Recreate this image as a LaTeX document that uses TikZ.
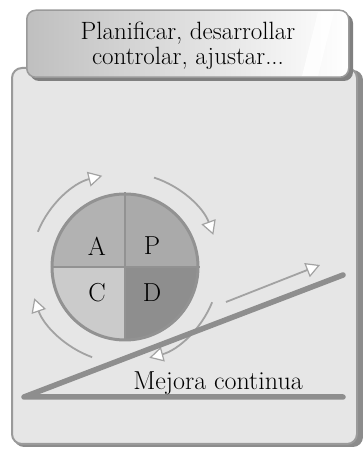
\documentclass[tikz,border=0pt]{standalone}
\usetikzlibrary{arrows.meta}
\definecolor{boxfill}{HTML}{E6E6E6}
\definecolor{edge}{HTML}{9A9A9A}
\definecolor{ring}{HTML}{929292}
\definecolor{qA}{HTML}{B2B2B2}
\definecolor{qP}{HTML}{AAAAAA}
\definecolor{qC}{HTML}{CBCBCB}
\definecolor{qD}{HTML}{8E8E8E}
\definecolor{ramp}{HTML}{8E8E8E}
\definecolor{cyc}{HTML}{A2A2A2}
\begin{document}
\begin{tikzpicture}[x=1pt,y=1pt,
  cycarrow/.style={draw=cyc, line width=1.8pt, -{Triangle[fill=white, length=14pt, width=15pt, line width=1.2pt]}},
  letter/.style={font=\fontsize{26}{26}\selectfont, text=black},
  bigtext/.style={font=\fontsize{25}{25}\selectfont, text=black, align=center}]
\useasboundingbox (0,0) rectangle (363,450);
% main box with shadow
\fill[black!45, rounded corners=10pt] (14,3) rectangle (363,380);
\node[draw=edge, fill=boxfill, line width=2pt, rounded corners=10pt,
  minimum width=345pt, minimum height=376pt, inner sep=0pt, anchor=south west] (box) at (11,5) {};
% tab with shadow
\fill[black!50, rounded corners=9pt] (30,369) rectangle (353,436);
\node[draw=edge, left color=black!25, right color=white, line width=1.5pt, rounded corners=9pt,
  minimum width=322pt, minimum height=67pt, inner sep=0pt, anchor=south west] (tab) at (26,372) {};
\fill[white, opacity=0.8] (318,438) -- (334,438) -- (318,374) -- (302,374) -- cycle;
\node[bigtext] (tabtext) at (188,404) {Planificar, desarrollar\\controlar, ajustar...};
% PDCA circle
\coordinate (c) at (125,183);
\fill[qA] (c) -- ++(0,73) arc (90:180:73) -- cycle;
\fill[qC] (c) -- ++(-73,0) arc (180:270:73) -- cycle;
\fill[qD] (c) -- ++(0,-73) arc (270:360:73) -- cycle;
\fill[qP] (c) -- ++(73,0) arc (0:90:73) -- cycle;
\node[draw=ring, line width=3pt, circle, minimum size=146pt, inner sep=0pt] (pdca) at (c) {};
\draw[ring, line width=1.2pt] (pdca.north) -- (pdca.south) (pdca.west) -- (pdca.east);
\node[letter] (A) at (97,204) {A};
\node[letter] (P) at (152,204) {P};
\node[letter] (C) at (97,157) {C};
\node[letter] (D) at (152,157) {D};
% cycle arrows
\draw[cycarrow] ([shift={(158:94)}]c) arc (158:104:94);
\draw[cycarrow] ([shift={(72:94)}]c) arc (72:20:94);
\draw[cycarrow] ([shift={(-22:94)}]c) arc (-22:-75:94);
\draw[cycarrow] ([shift={(250:96)}]c) arc (250:199:96);
% ramp
\coordinate (r0) at (24,53);
\coordinate (r1) at (343,175);
\coordinate (b1) at (343,53);
\draw[ramp, line width=5.5pt, line cap=round, line join=round] (r1) -- (r0) -- (b1);
\coordinate (a0) at (226,148);
\coordinate (a1) at (320,185);
\draw[cycarrow] (a0) -- (a1);
\node[font=\fontsize{26}{26}\selectfont, text=black] (mejora) at (218,67) {Mejora continua};
\end{tikzpicture}
\end{document}
